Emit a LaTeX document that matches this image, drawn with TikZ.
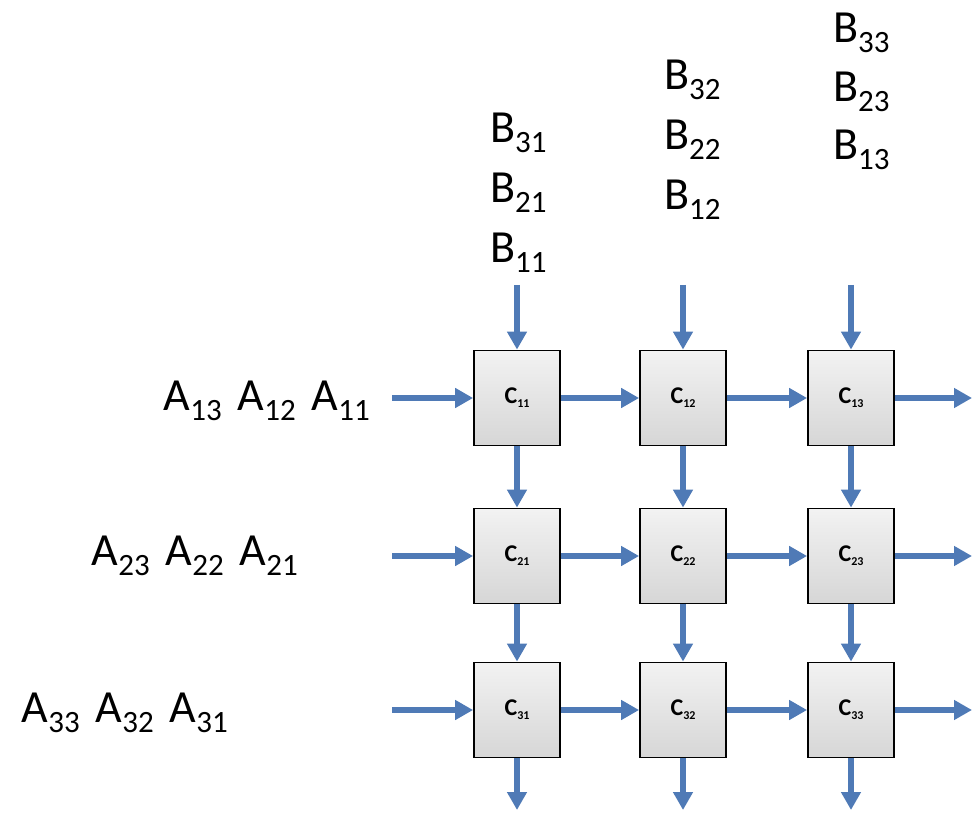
\documentclass[tikz,border=0pt]{standalone}
\usepackage{fontspec}
\setmainfont{Carlito}
\usetikzlibrary{arrows.meta}
\definecolor{arr}{RGB}{79,122,182}
\newcommand{\lab}[2]{#1\raisebox{-10pt}{\fontsize{31}{31}\selectfont #2}}
\newcommand{\clab}[1]{\textbf{C}\raisebox{-4pt}{\fontsize{12}{12}\selectfont\textbf{#1}}}
\begin{document}
\begin{tikzpicture}[x=1pt,y=-1pt,
  cell/.style={draw=black,line width=1.8pt,minimum width=86pt,minimum height=95pt,inner sep=0pt,
    top color=gray!10,bottom color=gray!32,font=\fontsize{24}{24}\selectfont},
  flow/.style={draw=arr,line width=5.5pt,-{Triangle[length=18pt,width=19pt]}},
  big/.style={inner sep=0pt,font=\fontsize{46}{46}\selectfont}]
\useasboundingbox (0,0) rectangle (980,826);
% cells
\foreach \r/\y in {1/398,2/556,3/710}{
  \foreach \c/\x in {1/517,2/683,3/851}{
    \node[cell] (c\r\c) at (\x,\y) {\clab{\r\c}};
  }
}
% free ends
\foreach \r/\y in {1/398,2/556,3/710}{
  \coordinate (in\r) at (392,\y);
  \coordinate (out\r) at (972,\y);
}
\foreach \c/\x in {1/517,2/683,3/851}{
  \coordinate (top\c) at (\x,285);
  \coordinate (bot\c) at (\x,810);
}
% arrows
\foreach \r in {1,2,3}{
  \draw[flow] (in\r) -- (c\r1.west);
  \draw[flow] (c\r1.east) -- (c\r2.west);
  \draw[flow] (c\r2.east) -- (c\r3.west);
  \draw[flow] (c\r3.east) -- (out\r);
}
\foreach \c in {1,2,3}{
  \draw[flow] (top\c) -- (c1\c.north);
  \draw[flow] (c1\c.south) -- (c2\c.north);
  \draw[flow] (c2\c.south) -- (c3\c.north);
  \draw[flow] (c3\c.south) -- (bot\c);
}
% B labels
\node[big,anchor=base west] (b31) at (490,143) {\lab{B}{31}};
\node[big,anchor=base west] (b21) at (490,203) {\lab{B}{21}};
\node[big,anchor=base west] (b11) at (490,263) {\lab{B}{11}};
\node[big,anchor=base west] (b32) at (664,90) {\lab{B}{32}};
\node[big,anchor=base west] (b22) at (664,150) {\lab{B}{22}};
\node[big,anchor=base west] (b12) at (664,210) {\lab{B}{12}};
\node[big,anchor=base west] (b33) at (833,43) {\lab{B}{33}};
\node[big,anchor=base west] (b23) at (833,102) {\lab{B}{23}};
\node[big,anchor=base west] (b13) at (833,160) {\lab{B}{13}};
% A labels
\node[big,anchor=base east] (a1) at (370,410) {\lab{A}{13}\hskip16pt\lab{A}{12}\hskip16pt\lab{A}{11}};
\node[big,anchor=base east] (a2) at (298,565) {\lab{A}{23}\hskip16pt\lab{A}{22}\hskip16pt\lab{A}{21}};
\node[big,anchor=base east] (a3) at (228,722) {\lab{A}{33}\hskip16pt\lab{A}{32}\hskip16pt\lab{A}{31}};
\end{tikzpicture}
\end{document}
